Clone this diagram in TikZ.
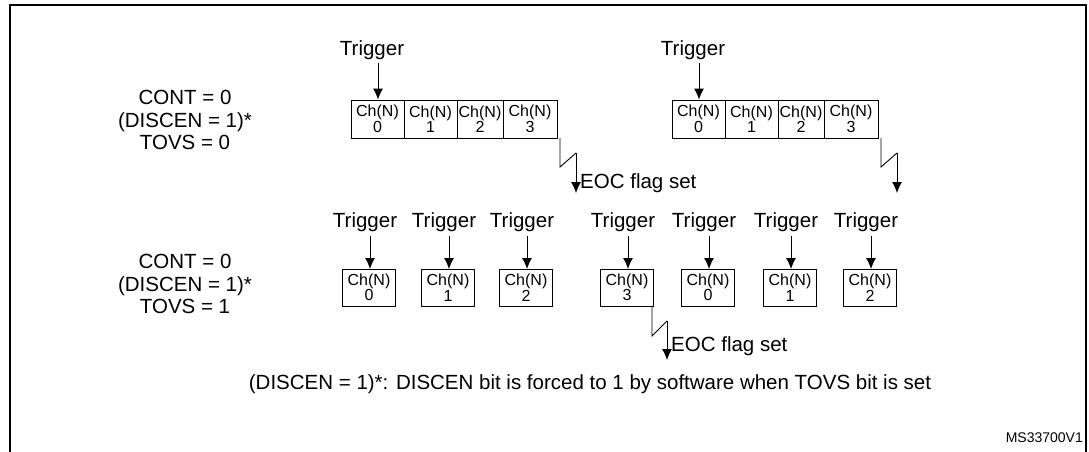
\documentclass[tikz,border=0pt]{standalone}
\usepackage{fontspec}
\setmainfont{Liberation Sans}
\usetikzlibrary{arrows.meta}
\begin{document}
\begin{tikzpicture}[x=1pt,y=-1pt,
  lbl/.style={font=\fontsize{20.5}{22.5}\selectfont,inner sep=0pt,align=center},
  ch/.style={draw,line width=0.9pt,minimum height=38pt,inner sep=0pt,align=center,font=\fontsize{16}{15.5}\selectfont},
  arr/.style={-{Latex[length=11pt,width=10pt]},line width=0.9pt}]
\useasboundingbox (0,0) rectangle (1089,452);
\draw[line width=1.5pt] (10,470) -- (10,5) -- (1086,5) -- (1086,470);
% left labels
\node[lbl] (l1) at (185,120) {CONT = 0\\(DISCEN = 1)*\\TOVS = 0};
\node[lbl] (l2) at (185,284) {CONT = 0\\(DISCEN = 1)*\\TOVS = 1};
% top row group 1
\foreach \n/\a/\b/\d in {a0/351/404/0,a1/404/457/1,a2/457/503/2,a3/503/557/3}{
  \node[ch,minimum width=\b-\a] (\n) at ({(\a+\b)/2},119) {Ch(N)\\\d};}
\node[lbl] (t1) at (372,50) {Trigger};
\coordinate (s1) at (378,63);
\draw[arr] (s1) -- (s1 |- a0.north);
\coordinate (z1) at (560,167); \coordinate (z2) at (576,153); \coordinate (z3) at (576,193);
\draw[line width=0.9pt] (560,138) -- (z1) -- (z2);
\draw[arr] (z2) -- (z3);
\node[lbl,anchor=west] (eoc1) at (580,183) {EOC flag set};
% top row group 2
\foreach \n/\a/\b/\d in {b0/672/725/0,b1/725/778/1,b2/778/824/2,b3/824/878/3}{
  \node[ch,minimum width=\b-\a] (\n) at ({(\a+\b)/2},119) {Ch(N)\\\d};}
\node[lbl] (t2) at (693,50) {Trigger};
\coordinate (s2) at (699,63);
\draw[arr] (s2) -- (s2 |- b0.north);
\coordinate (y1) at (881,167); \coordinate (y2) at (897,153); \coordinate (y3) at (897,193);
\draw[line width=0.9pt] (881,138) -- (y1) -- (y2);
\draw[arr] (y2) -- (y3);
% bottom row
\foreach \n/\c/\d in {c0/369/0,c1/448/1,c2/526/2,c3/627/3,c4/708/0,c5/790/1,c6/870/2}{
  \node[ch,minimum width=53pt,minimum height=37pt] (\n) at (\c,287.5) {Ch(N)\\\d};
  \node[lbl] (t\n) at (\c-4,222) {Trigger};
  \draw[arr] (\c+1,236) -- (\c+1,269);}
\coordinate (x1) at (652,336); \coordinate (x2) at (667,321); \coordinate (x3) at (667,360);
\draw[line width=0.9pt] (652,306) -- (x1) -- (x2);
\draw[arr] (x2) -- (x3);
\node[lbl,anchor=west] (eoc2) at (671,346) {EOC flag set};
\node[lbl] (fn) at (590,384) {(DISCEN = 1)*: DISCEN bit is forced to 1 by software when TOVS bit is set};
\node[font=\fontsize{14}{15}\selectfont,anchor=east,inner sep=0pt] (ms) at (1083,438) {MS33700V1};
\end{tikzpicture}
\end{document}
